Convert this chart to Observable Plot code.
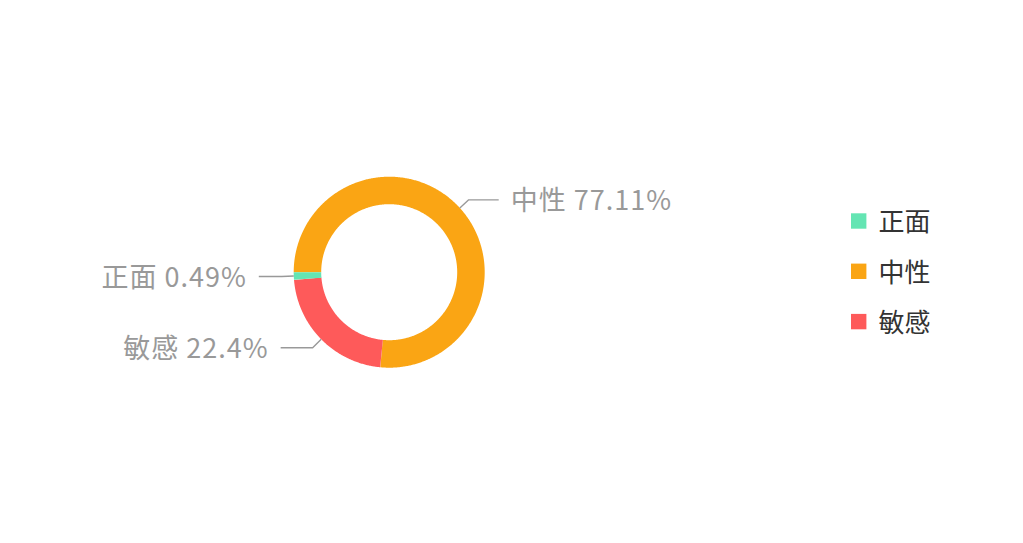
<!DOCTYPE html>
<html><head><meta charset="utf-8">
<script src="https://cdn.jsdelivr.net/npm/d3@7"></script>
<script src="https://cdn.jsdelivr.net/npm/@observablehq/plot@0.6"></script>
<style>
html,body{margin:0;padding:0;background:#fff;}
#chart{width:1023px;height:543px;}
#chart svg g[fill="#999"] text{letter-spacing:1px;}
</style>
</head><body><div id="chart"></div>
<script>
// ---- data ----
const categories = ["正面", "中性", "敏感"];
const values = [0.49, 77.11, 22.4];
const valueLabels = ["0.49%", "77.11%", "22.4%"];
const colors = ["#64e5b3", "#faa514", "#fe5a5a"];

// ---- layout ----
const W = 1023, H = 543;
const cx = 388.7, cy = 271.7, rOuter = 95.5, rInner = 68;
const rMid = (rOuter + rInner) / 2, ringWidth = rOuter - rInner;
const minAngle = 4.6 * Math.PI / 180;
const leadLen1 = 12, labelGap = 12;
const leadLen2 = {"正面": 23, "中性": 30, "敏感": 32};
const legendX = 851, legendSize = 15.4, legendY0 = 221, legendStep = 50.3, legendTextX = 878;
const FONT = "'Noto Sans CJK SC', 'Noto Sans', sans-serif";

const data = categories.map((name, i) => ({name, value: values[i], label: `${name} ${valueLabels[i]}`, i}));

// pie layout (descending order, clockwise from 9 o'clock, with a minimum slice angle)
const ordered = data.slice().sort((a, b) => b.value - a.value);
const total = d3.sum(ordered, d => d.value);
const small = ordered.filter(d => d.value / total * 2 * Math.PI < minAngle);
const bigSum = d3.sum(ordered.filter(d => !small.includes(d)), d => d.value);
const restAngle = 2 * Math.PI - small.length * minAngle;
let a0 = -Math.PI / 2;
const arcs = ordered.map(d => {
  const span = small.includes(d) ? minAngle : d.value / bigSum * restAngle;
  const arc = {data: d, startAngle: a0, endAngle: a0 + span};
  a0 += span;
  return arc;
});

const ring = arcs.flatMap(a => {
  const n = Math.max(2, Math.ceil((a.endAngle - a.startAngle) / (Math.PI / 360)) + 1);
  return d3.range(n).map(k => {
    const t = a.startAngle + (a.endAngle - a.startAngle) * k / (n - 1);
    return {name: a.data.name, x: cx + rMid * Math.sin(t), y: cy - rMid * Math.cos(t)};
  });
});

const leaders = [], labels = [];
arcs.forEach(a => {
  const m = (a.startAngle + a.endAngle) / 2;
  const s = Math.sin(m) >= 0 ? 1 : -1;
  const p0 = {x: cx + rOuter * Math.sin(m), y: cy - rOuter * Math.cos(m)};
  const p1 = {x: cx + (rOuter + leadLen1) * Math.sin(m), y: cy - (rOuter + leadLen1) * Math.cos(m)};
  const p2 = {x: p1.x + s * leadLen2[a.data.name], y: p1.y};
  [p0, p1, p2].forEach(p => leaders.push({name: a.data.name, ...p}));
  labels.push({side: s, x: p2.x + s * labelGap, y: p2.y + 1.5, text: a.data.label});
});

const chart = Plot.plot({
  width: W, height: H, margin: 0,
  x: {type: "identity", axis: null},
  y: {type: "identity", axis: null},
  color: {domain: categories, range: colors},
  marks: [
    Plot.line(ring, {x: "x", y: "y", z: "name", stroke: "name", strokeWidth: ringWidth,
      strokeLinecap: "butt", strokeLinejoin: "round", curve: "linear"}),
    Plot.line(leaders, {x: "x", y: "y", z: "name", stroke: "#999", strokeWidth: 1.4,
      strokeLinecap: "butt", strokeLinejoin: "miter"}),
    Plot.text(labels.filter(d => d.side > 0), {x: "x", y: "y", text: "text", textAnchor: "start",
      fill: "#999", fontSize: 27, fontFamily: FONT}),
    Plot.text(labels.filter(d => d.side < 0), {x: "x", y: "y", text: "text", textAnchor: "end",
      fill: "#999", fontSize: 27, fontFamily: FONT}),
    Plot.rect(data, {x1: () => legendX, x2: () => legendX + legendSize,
      y1: d => legendY0 + d.i * legendStep - legendSize / 2,
      y2: d => legendY0 + d.i * legendStep + legendSize / 2, fill: "name"}),
    Plot.text(data, {x: () => legendTextX, y: d => legendY0 + d.i * legendStep + 1.5, text: "name",
      textAnchor: "start", fill: "#333", fontSize: 26, fontFamily: FONT})
  ]
});
document.getElementById("chart").appendChild(chart);
</script>
</body></html>
